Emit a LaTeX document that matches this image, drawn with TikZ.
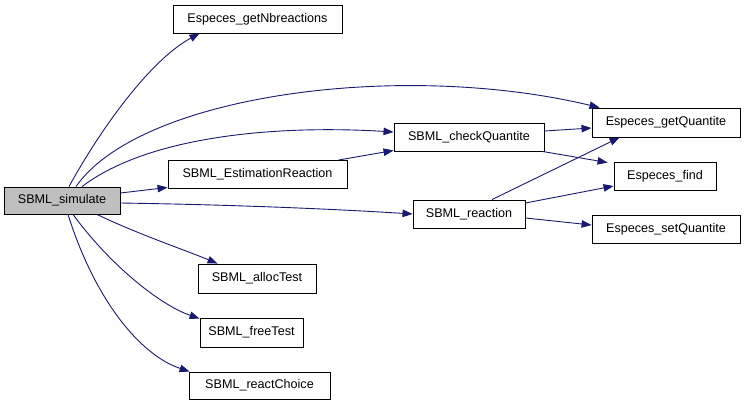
\documentclass[tikz,border=0pt]{standalone}
\usepackage{fontspec}
\setmainfont{Liberation Sans}
\usetikzlibrary{arrows.meta}
\definecolor{edgeblue}{HTML}{191970}
\definecolor{boxgray}{HTML}{BFBFBF}
\tikzset{
  fn/.style={draw=black, line width=0.9pt, inner sep=0pt, minimum height=28pt,
    font=\fontsize{12.6}{14}\selectfont, anchor=center},
  call/.style={draw=edgeblue, line width=0.9pt,
    -{Triangle[length=10pt,width=7.5pt]}},
}
\begin{document}
\begin{tikzpicture}[x=1pt,y=-1pt]
\useasboundingbox (0,0) rectangle (744,405);
\node[fn, fill=boxgray, minimum width=116pt, minimum height=27pt] (simulate) at (62,200.5) {SBML\_simulate};
\node[fn, minimum width=169pt] (nbreac) at (257.5,19) {Especes\_getNbreactions};
\node[fn, minimum width=179pt] (estim) at (257.5,174.5) {SBML\_EstimationReaction};
\node[fn, minimum width=150pt] (check) at (469,137) {SBML\_checkQuantite};
\node[fn, minimum width=112pt] (reac) at (469,214) {SBML\_reaction};
\node[fn, minimum width=148pt, minimum height=29pt] (getq) at (666,122.5) {Especes\_getQuantite};
\node[fn, minimum width=102pt] (find) at (665,176) {Especes\_find};
\node[fn, minimum width=148pt] (setq) at (666,229) {Especes\_setQuantite};
\node[fn, minimum width=118pt, minimum height=29pt] (alloc) at (257,278.5) {SBML\_allocTest};
\node[fn, minimum width=103pt, minimum height=29pt] (free) at (251.5,332.5) {SBML\_freeTest};
\node[fn, minimum width=141pt, minimum height=27pt] (choice) at (259.5,385.5) {SBML\_reactChoice};

% simulate -> getNbreactions
\draw[call] ([xshift=7pt]simulate.north) .. controls (100,130) and (150,60) .. ([xshift=27pt]nbreac.south west);
% simulate -> getQuantite
\draw[call] ([xshift=14pt]simulate.north) .. controls (140,95) and (400,60) .. ([xshift=8pt]getq.north west);
% simulate -> checkQuantite
\draw[call] ([xshift=20pt]simulate.north) .. controls (150,135) and (280,125) .. ([yshift=5pt]check.west);
% simulate -> EstimationReaction
\draw[call] ([yshift=7.5pt]simulate.east) -- ([yshift=1.5pt]estim.south west);
% simulate -> reaction
\draw[call] ([yshift=-2.5pt]simulate.east) .. controls (250,205) and (350,210) .. (reac.west);
% EstimationReaction -> checkQuantite
\draw[call] ([xshift=-9pt]estim.north east) -- ([yshift=1pt]check.south west);
% checkQuantite -> getQuantite
\draw[call] ([yshift=6pt]check.east) -- ([yshift=-5.5pt]getq.west);
% checkQuantite -> find
\draw[call] ([xshift=-2pt]check.south east) -- ([xshift=-6pt,yshift=-1pt]find.north west);
% reaction -> getQuantite
\draw[call] ([xshift=23pt]reac.north) -- ([xshift=28pt]getq.south west);
% reaction -> find
\draw[call] ([yshift=11pt]reac.east) -- ([yshift=-10pt]find.west);
% reaction -> setQuantite
\draw[call] ([yshift=-4pt]reac.east) -- ([yshift=4pt]setq.west);
% simulate -> allocTest
\draw[call] ([xshift=35pt]simulate.south) .. controls (140,235) and (185,250) .. ([xshift=20pt]alloc.north west);
% simulate -> freeTest
\draw[call] ([xshift=11pt]simulate.south) .. controls (110,265) and (160,305) .. ([yshift=-1pt]free.north west);
% simulate -> reactChoice
\draw[call] ([xshift=6pt]simulate.south) .. controls (95,300) and (140,355) .. ([xshift=1pt]choice.north west);
\end{tikzpicture}
\end{document}
